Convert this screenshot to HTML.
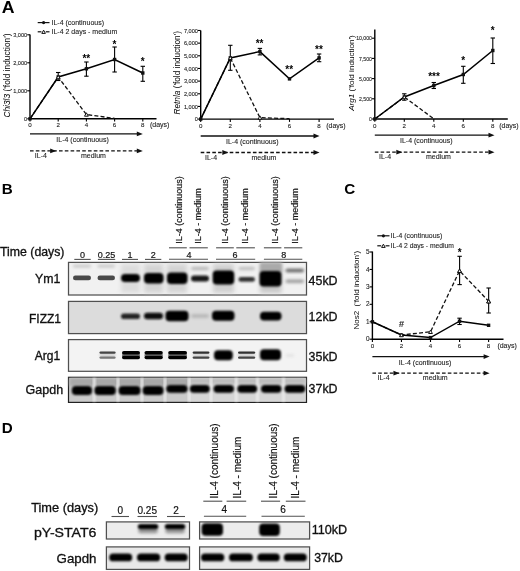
<!DOCTYPE html><html><head><meta charset="utf-8"><style>
html,body{margin:0;padding:0;background:#fff;overflow:hidden;}svg{display:block;filter:blur(0.3px);}
text{font-family:"Liberation Sans", sans-serif;}
</style></head><body>
<svg width="520" height="571" viewBox="0 0 520 571">
<defs><filter id="b0" x="-30%" y="-80%" width="160%" height="260%"><feGaussianBlur stdDeviation="0.55"/></filter><filter id="b1" x="-30%" y="-80%" width="160%" height="260%"><feGaussianBlur stdDeviation="0.9"/></filter><filter id="b2" x="-30%" y="-80%" width="160%" height="260%"><feGaussianBlur stdDeviation="1.4"/></filter><filter id="b3" x="-30%" y="-80%" width="160%" height="260%"><feGaussianBlur stdDeviation="2.2"/></filter></defs>
<rect width="520" height="571" fill="#fff"/>
<text x="1.7" y="12.6" font-size="15.7" font-weight="bold" fill="#000" textLength="12.8" lengthAdjust="spacingAndGlyphs">A</text>
<text x="1.7" y="193.8" font-size="15.2" text-anchor="start" font-weight="bold" fill="#000">B</text>
<text x="344.3" y="193.8" font-size="15.2" text-anchor="start" font-weight="bold" fill="#000">C</text>
<text x="1.7" y="433.2" font-size="15.2" text-anchor="start" font-weight="bold" fill="#000">D</text>
<line x1="30.0" y1="34.5" x2="30.0" y2="119.39999999999999" stroke="#000" stroke-width="1.4"/>
<line x1="29.4" y1="118.8" x2="156.5" y2="118.8" stroke="#000" stroke-width="1.4"/>
<line x1="27.2" y1="118.8" x2="30.0" y2="118.8" stroke="#000" stroke-width="1.1"/>
<text x="27.2" y="120.89999999999999" font-size="5.6" text-anchor="end" fill="#222" stroke="#222" stroke-width="0.1">0</text>
<line x1="27.2" y1="90.8" x2="30.0" y2="90.8" stroke="#000" stroke-width="1.1"/>
<text x="27.2" y="92.89999999999999" font-size="5.6" text-anchor="end" fill="#222" stroke="#222" stroke-width="0.1">1,000</text>
<line x1="27.2" y1="62.8" x2="30.0" y2="62.8" stroke="#000" stroke-width="1.1"/>
<text x="27.2" y="64.89999999999999" font-size="5.6" text-anchor="end" fill="#222" stroke="#222" stroke-width="0.1">2,000</text>
<line x1="27.2" y1="34.8" x2="30.0" y2="34.8" stroke="#000" stroke-width="1.1"/>
<text x="27.2" y="36.9" font-size="5.6" text-anchor="end" fill="#222" stroke="#222" stroke-width="0.1">3,000</text>
<line x1="30.0" y1="118.8" x2="30.0" y2="121.6" stroke="#000" stroke-width="1.1"/>
<text x="30.0" y="127.39999999999999" font-size="6.2" text-anchor="middle" fill="#222" stroke="#222" stroke-width="0.1">0</text>
<line x1="58.2" y1="118.8" x2="58.2" y2="121.6" stroke="#000" stroke-width="1.1"/>
<text x="58.2" y="127.39999999999999" font-size="6.2" text-anchor="middle" fill="#222" stroke="#222" stroke-width="0.1">2</text>
<line x1="86.4" y1="118.8" x2="86.4" y2="121.6" stroke="#000" stroke-width="1.1"/>
<text x="86.4" y="127.39999999999999" font-size="6.2" text-anchor="middle" fill="#222" stroke="#222" stroke-width="0.1">4</text>
<line x1="114.6" y1="118.8" x2="114.6" y2="121.6" stroke="#000" stroke-width="1.1"/>
<text x="114.6" y="127.39999999999999" font-size="6.2" text-anchor="middle" fill="#222" stroke="#222" stroke-width="0.1">6</text>
<line x1="142.8" y1="118.8" x2="142.8" y2="121.6" stroke="#000" stroke-width="1.1"/>
<text x="142.8" y="127.39999999999999" font-size="6.2" text-anchor="middle" fill="#222" stroke="#222" stroke-width="0.1">8</text>
<text x="150" y="127.39999999999999" font-size="7" text-anchor="start" fill="#222" stroke="#222" stroke-width="0.1">(days)</text>
<text x="9.6" y="75.5" font-size="8.4" text-anchor="middle" fill="#000" transform="rotate(-90 9.6 75.5)"><tspan font-style="italic">Chi3l3</tspan> ('fold induction')</text>
<polyline points="30.0,118.8 58.2,77.0 86.4,114.5 114.6,118.4" fill="none" stroke="#111" stroke-width="1.3" stroke-linejoin="miter" stroke-dasharray="4,2.2"/>
<polyline points="30.0,118.8 58.2,77.0 86.4,68.8 114.6,59.5 142.8,73.0" fill="none" stroke="#000" stroke-width="1.5" stroke-linejoin="miter"/>
<line x1="58.2" y1="72.5" x2="58.2" y2="80.5" stroke="#000" stroke-width="1.1"/>
<line x1="56.0" y1="72.5" x2="60.400000000000006" y2="72.5" stroke="#000" stroke-width="1.1"/>
<line x1="56.0" y1="80.5" x2="60.400000000000006" y2="80.5" stroke="#000" stroke-width="1.1"/>
<line x1="86.4" y1="62.0" x2="86.4" y2="76.2" stroke="#000" stroke-width="1.1"/>
<line x1="84.2" y1="62.0" x2="88.60000000000001" y2="62.0" stroke="#000" stroke-width="1.1"/>
<line x1="84.2" y1="76.2" x2="88.60000000000001" y2="76.2" stroke="#000" stroke-width="1.1"/>
<line x1="114.6" y1="47.0" x2="114.6" y2="72.0" stroke="#000" stroke-width="1.1"/>
<line x1="112.39999999999999" y1="47.0" x2="116.8" y2="47.0" stroke="#000" stroke-width="1.1"/>
<line x1="112.39999999999999" y1="72.0" x2="116.8" y2="72.0" stroke="#000" stroke-width="1.1"/>
<line x1="142.8" y1="66.3" x2="142.8" y2="81.3" stroke="#000" stroke-width="1.1"/>
<line x1="140.60000000000002" y1="66.3" x2="145.0" y2="66.3" stroke="#000" stroke-width="1.1"/>
<line x1="140.60000000000002" y1="81.3" x2="145.0" y2="81.3" stroke="#000" stroke-width="1.1"/>
<rect x="28.3" y="117.1" width="3.4" height="3.4" fill="#111"/>
<rect x="56.5" y="75.3" width="3.4" height="3.4" fill="#111"/>
<rect x="84.7" y="67.1" width="3.4" height="3.4" fill="#111"/>
<rect x="112.89999999999999" y="57.8" width="3.4" height="3.4" fill="#111"/>
<rect x="141.10000000000002" y="71.3" width="3.4" height="3.4" fill="#111"/>
<path d="M58.2,75.29 L60.1,78.71 L56.300000000000004,78.71 Z" fill="#fff" stroke="#111" stroke-width="1.0"/>
<path d="M86.4,112.79 L88.30000000000001,116.21 L84.5,116.21 Z" fill="#fff" stroke="#111" stroke-width="1.0"/>
<text x="86.3" y="61.7" font-size="10" text-anchor="middle" font-weight="bold" fill="#000">**</text>
<text x="114.5" y="48.0" font-size="10" text-anchor="middle" font-weight="bold" fill="#000">*</text>
<text x="142.6" y="65.4" font-size="10" text-anchor="middle" font-weight="bold" fill="#000">*</text>
<line x1="30.0" y1="133.9" x2="138.8" y2="133.9" stroke="#111" stroke-width="1.3"/>
<path d="M142.8,133.9 L136.8,131.5 L136.8,136.3 Z" fill="#111"/>
<text x="56.3" y="142.0" font-size="7" text-anchor="start" fill="#222" stroke="#222" stroke-width="0.1">IL-4 (continuous)</text>
<line x1="30.0" y1="150.9" x2="138.8" y2="150.9" stroke="#111" stroke-width="1.3" stroke-dasharray="3.6,2.2"/>
<path d="M56.2,150.9 L50.2,148.5 L50.2,153.3 Z" fill="#111"/>
<path d="M142.8,150.9 L136.8,148.5 L136.8,153.3 Z" fill="#111"/>
<text x="34.8" y="158.1" font-size="7" text-anchor="start" fill="#222" stroke="#222" stroke-width="0.1">IL-4</text>
<text x="81.0" y="158.1" font-size="7" text-anchor="start" fill="#222" stroke="#222" stroke-width="0.1">medium</text>
<line x1="37.7" y1="22.6" x2="49.5" y2="22.6" stroke="#111" stroke-width="1.2"/>
<circle cx="43.6" cy="22.6" r="1.6" fill="#111"/>
<text x="51.5" y="25.0" font-size="7" text-anchor="start" fill="#222" stroke="#222" stroke-width="0.1">IL-4 (continuous)</text>
<line x1="37.7" y1="31.8" x2="41.4" y2="31.8" stroke="#111" stroke-width="1.2"/>
<line x1="45.8" y1="31.8" x2="49.5" y2="31.8" stroke="#111" stroke-width="1.2"/>
<path d="M43.6,30.18 L45.4,33.42 L41.800000000000004,33.42 Z" fill="#fff" stroke="#111" stroke-width="1.0"/>
<text x="51.5" y="34.2" font-size="7" text-anchor="start" fill="#222" stroke="#222" stroke-width="0.1">IL-4 2 days - medium</text>
<line x1="200.7" y1="30.4" x2="200.7" y2="119.69999999999999" stroke="#000" stroke-width="1.4"/>
<line x1="200.1" y1="119.1" x2="334.0" y2="119.1" stroke="#000" stroke-width="1.4"/>
<line x1="197.89999999999998" y1="119.1" x2="200.7" y2="119.1" stroke="#000" stroke-width="1.1"/>
<text x="197.89999999999998" y="121.19999999999999" font-size="5.6" text-anchor="end" fill="#222" stroke="#222" stroke-width="0.1">0</text>
<line x1="197.89999999999998" y1="106.44" x2="200.7" y2="106.44" stroke="#000" stroke-width="1.1"/>
<text x="197.89999999999998" y="108.53999999999999" font-size="5.6" text-anchor="end" fill="#222" stroke="#222" stroke-width="0.1">1,000</text>
<line x1="197.89999999999998" y1="93.78" x2="200.7" y2="93.78" stroke="#000" stroke-width="1.1"/>
<text x="197.89999999999998" y="95.88" font-size="5.6" text-anchor="end" fill="#222" stroke="#222" stroke-width="0.1">2,000</text>
<line x1="197.89999999999998" y1="81.11999999999999" x2="200.7" y2="81.11999999999999" stroke="#000" stroke-width="1.1"/>
<text x="197.89999999999998" y="83.21999999999998" font-size="5.6" text-anchor="end" fill="#222" stroke="#222" stroke-width="0.1">3,000</text>
<line x1="197.89999999999998" y1="68.46" x2="200.7" y2="68.46" stroke="#000" stroke-width="1.1"/>
<text x="197.89999999999998" y="70.55999999999999" font-size="5.6" text-anchor="end" fill="#222" stroke="#222" stroke-width="0.1">4,000</text>
<line x1="197.89999999999998" y1="55.8" x2="200.7" y2="55.8" stroke="#000" stroke-width="1.1"/>
<text x="197.89999999999998" y="57.9" font-size="5.6" text-anchor="end" fill="#222" stroke="#222" stroke-width="0.1">5,000</text>
<line x1="197.89999999999998" y1="43.139999999999986" x2="200.7" y2="43.139999999999986" stroke="#000" stroke-width="1.1"/>
<text x="197.89999999999998" y="45.23999999999999" font-size="5.6" text-anchor="end" fill="#222" stroke="#222" stroke-width="0.1">6,000</text>
<line x1="197.89999999999998" y1="30.47999999999999" x2="200.7" y2="30.47999999999999" stroke="#000" stroke-width="1.1"/>
<text x="197.89999999999998" y="32.57999999999999" font-size="5.6" text-anchor="end" fill="#222" stroke="#222" stroke-width="0.1">7,000</text>
<line x1="200.7" y1="119.1" x2="200.7" y2="121.89999999999999" stroke="#000" stroke-width="1.1"/>
<text x="200.7" y="127.69999999999999" font-size="6.2" text-anchor="middle" fill="#222" stroke="#222" stroke-width="0.1">0</text>
<line x1="230.29999999999998" y1="119.1" x2="230.29999999999998" y2="121.89999999999999" stroke="#000" stroke-width="1.1"/>
<text x="230.29999999999998" y="127.69999999999999" font-size="6.2" text-anchor="middle" fill="#222" stroke="#222" stroke-width="0.1">2</text>
<line x1="259.9" y1="119.1" x2="259.9" y2="121.89999999999999" stroke="#000" stroke-width="1.1"/>
<text x="259.9" y="127.69999999999999" font-size="6.2" text-anchor="middle" fill="#222" stroke="#222" stroke-width="0.1">4</text>
<line x1="289.5" y1="119.1" x2="289.5" y2="121.89999999999999" stroke="#000" stroke-width="1.1"/>
<text x="289.5" y="127.69999999999999" font-size="6.2" text-anchor="middle" fill="#222" stroke="#222" stroke-width="0.1">6</text>
<line x1="319.1" y1="119.1" x2="319.1" y2="121.89999999999999" stroke="#000" stroke-width="1.1"/>
<text x="319.1" y="127.69999999999999" font-size="6.2" text-anchor="middle" fill="#222" stroke="#222" stroke-width="0.1">8</text>
<text x="326.2" y="127.69999999999999" font-size="7" text-anchor="start" fill="#222" stroke="#222" stroke-width="0.1">(days)</text>
<text x="179.8" y="72.8" font-size="8.25" text-anchor="middle" fill="#000" transform="rotate(-90 179.8 72.8)"><tspan font-style="italic">Retnla</tspan> ('fold induction')</text>
<polyline points="200.7,119.1 230.29999999999998,57.9 259.9,117.6 289.5,118.7" fill="none" stroke="#111" stroke-width="1.3" stroke-linejoin="miter" stroke-dasharray="4,2.2"/>
<polyline points="200.7,119.1 230.29999999999998,57.9 259.9,51.6 289.5,78.9 319.1,57.9" fill="none" stroke="#000" stroke-width="1.5" stroke-linejoin="miter"/>
<line x1="230.29999999999998" y1="45.3" x2="230.29999999999998" y2="70.3" stroke="#000" stroke-width="1.1"/>
<line x1="228.1" y1="45.3" x2="232.49999999999997" y2="45.3" stroke="#000" stroke-width="1.1"/>
<line x1="228.1" y1="70.3" x2="232.49999999999997" y2="70.3" stroke="#000" stroke-width="1.1"/>
<line x1="259.9" y1="48.4" x2="259.9" y2="54.9" stroke="#000" stroke-width="1.1"/>
<line x1="257.7" y1="48.4" x2="262.09999999999997" y2="48.4" stroke="#000" stroke-width="1.1"/>
<line x1="257.7" y1="54.9" x2="262.09999999999997" y2="54.9" stroke="#000" stroke-width="1.1"/>
<line x1="319.1" y1="54.0" x2="319.1" y2="61.7" stroke="#000" stroke-width="1.1"/>
<line x1="316.90000000000003" y1="54.0" x2="321.3" y2="54.0" stroke="#000" stroke-width="1.1"/>
<line x1="316.90000000000003" y1="61.7" x2="321.3" y2="61.7" stroke="#000" stroke-width="1.1"/>
<rect x="199.0" y="117.39999999999999" width="3.4" height="3.4" fill="#111"/>
<rect x="228.6" y="56.199999999999996" width="3.4" height="3.4" fill="#111"/>
<rect x="258.2" y="49.9" width="3.4" height="3.4" fill="#111"/>
<rect x="287.8" y="77.2" width="3.4" height="3.4" fill="#111"/>
<rect x="317.40000000000003" y="56.199999999999996" width="3.4" height="3.4" fill="#111"/>
<path d="M230.29999999999998,56.19 L232.2,59.61 L228.39999999999998,59.61 Z" fill="#fff" stroke="#111" stroke-width="1.0"/>
<path d="M259.9,115.89 L261.79999999999995,119.30999999999999 L258.0,119.30999999999999 Z" fill="#fff" stroke="#111" stroke-width="1.0"/>
<text x="259.6" y="47.400000000000006" font-size="10" text-anchor="middle" font-weight="bold" fill="#000">**</text>
<text x="289.2" y="72.8" font-size="10" text-anchor="middle" font-weight="bold" fill="#000">**</text>
<text x="318.9" y="52.7" font-size="10" text-anchor="middle" font-weight="bold" fill="#000">**</text>
<line x1="200.7" y1="136.0" x2="315.5" y2="136.0" stroke="#111" stroke-width="1.3"/>
<path d="M319.5,136.0 L313.5,133.6 L313.5,138.4 Z" fill="#111"/>
<text x="226.0" y="144.1" font-size="7" text-anchor="start" fill="#222" stroke="#222" stroke-width="0.1">IL-4 (continuous)</text>
<line x1="200.7" y1="152.5" x2="315.5" y2="152.5" stroke="#111" stroke-width="1.3" stroke-dasharray="3.6,2.2"/>
<path d="M228.29999999999998,152.5 L222.29999999999998,150.1 L222.29999999999998,154.9 Z" fill="#111"/>
<path d="M319.5,152.5 L313.5,150.1 L313.5,154.9 Z" fill="#111"/>
<text x="205.0" y="159.7" font-size="7" text-anchor="start" fill="#222" stroke="#222" stroke-width="0.1">IL-4</text>
<text x="251.5" y="159.7" font-size="7" text-anchor="start" fill="#222" stroke="#222" stroke-width="0.1">medium</text>
<line x1="374.8" y1="29.5" x2="374.8" y2="119.6" stroke="#000" stroke-width="1.4"/>
<line x1="374.2" y1="119.0" x2="507.8" y2="119.0" stroke="#000" stroke-width="1.4"/>
<line x1="372.0" y1="119.0" x2="374.8" y2="119.0" stroke="#000" stroke-width="1.1"/>
<text x="372.0" y="121.1" font-size="5.2" text-anchor="end" fill="#222" stroke="#222" stroke-width="0.1">0</text>
<line x1="372.0" y1="98.8" x2="374.8" y2="98.8" stroke="#000" stroke-width="1.1"/>
<text x="372.0" y="100.89999999999999" font-size="5.2" text-anchor="end" fill="#222" stroke="#222" stroke-width="0.1">2,500</text>
<line x1="372.0" y1="78.6" x2="374.8" y2="78.6" stroke="#000" stroke-width="1.1"/>
<text x="372.0" y="80.69999999999999" font-size="5.2" text-anchor="end" fill="#222" stroke="#222" stroke-width="0.1">5,000</text>
<line x1="372.0" y1="58.4" x2="374.8" y2="58.4" stroke="#000" stroke-width="1.1"/>
<text x="372.0" y="60.5" font-size="5.2" text-anchor="end" fill="#222" stroke="#222" stroke-width="0.1">7,500</text>
<line x1="372.0" y1="38.2" x2="374.8" y2="38.2" stroke="#000" stroke-width="1.1"/>
<text x="372.0" y="40.300000000000004" font-size="5.2" text-anchor="end" fill="#222" stroke="#222" stroke-width="0.1">10,000</text>
<line x1="374.8" y1="119.0" x2="374.8" y2="121.8" stroke="#000" stroke-width="1.1"/>
<text x="374.8" y="127.6" font-size="6.2" text-anchor="middle" fill="#222" stroke="#222" stroke-width="0.1">0</text>
<line x1="404.3" y1="119.0" x2="404.3" y2="121.8" stroke="#000" stroke-width="1.1"/>
<text x="404.3" y="127.6" font-size="6.2" text-anchor="middle" fill="#222" stroke="#222" stroke-width="0.1">2</text>
<line x1="433.8" y1="119.0" x2="433.8" y2="121.8" stroke="#000" stroke-width="1.1"/>
<text x="433.8" y="127.6" font-size="6.2" text-anchor="middle" fill="#222" stroke="#222" stroke-width="0.1">4</text>
<line x1="463.3" y1="119.0" x2="463.3" y2="121.8" stroke="#000" stroke-width="1.1"/>
<text x="463.3" y="127.6" font-size="6.2" text-anchor="middle" fill="#222" stroke="#222" stroke-width="0.1">6</text>
<line x1="492.8" y1="119.0" x2="492.8" y2="121.8" stroke="#000" stroke-width="1.1"/>
<text x="492.8" y="127.6" font-size="6.2" text-anchor="middle" fill="#222" stroke="#222" stroke-width="0.1">8</text>
<text x="499.2" y="127.6" font-size="7" text-anchor="start" fill="#222" stroke="#222" stroke-width="0.1">(days)</text>
<text x="354.2" y="73.0" font-size="8.1" text-anchor="middle" fill="#000" transform="rotate(-90 354.2 73.0)"><tspan font-style="italic">Arg1</tspan> ('fold induction')</text>
<polyline points="374.8,119.0 404.3,97.0 433.8,118.8" fill="none" stroke="#111" stroke-width="1.3" stroke-linejoin="miter" stroke-dasharray="4,2.2"/>
<polyline points="374.8,119.0 404.3,97.0 433.8,85.5 463.3,74.5 492.8,50.5" fill="none" stroke="#000" stroke-width="1.5" stroke-linejoin="miter"/>
<line x1="404.3" y1="93.8" x2="404.3" y2="100.2" stroke="#000" stroke-width="1.1"/>
<line x1="402.1" y1="93.8" x2="406.5" y2="93.8" stroke="#000" stroke-width="1.1"/>
<line x1="402.1" y1="100.2" x2="406.5" y2="100.2" stroke="#000" stroke-width="1.1"/>
<line x1="433.8" y1="82.5" x2="433.8" y2="88.5" stroke="#000" stroke-width="1.1"/>
<line x1="431.6" y1="82.5" x2="436.0" y2="82.5" stroke="#000" stroke-width="1.1"/>
<line x1="431.6" y1="88.5" x2="436.0" y2="88.5" stroke="#000" stroke-width="1.1"/>
<line x1="463.3" y1="66.3" x2="463.3" y2="83.3" stroke="#000" stroke-width="1.1"/>
<line x1="461.1" y1="66.3" x2="465.5" y2="66.3" stroke="#000" stroke-width="1.1"/>
<line x1="461.1" y1="83.3" x2="465.5" y2="83.3" stroke="#000" stroke-width="1.1"/>
<line x1="492.8" y1="38.0" x2="492.8" y2="63.5" stroke="#000" stroke-width="1.1"/>
<line x1="490.6" y1="38.0" x2="495.0" y2="38.0" stroke="#000" stroke-width="1.1"/>
<line x1="490.6" y1="63.5" x2="495.0" y2="63.5" stroke="#000" stroke-width="1.1"/>
<rect x="373.1" y="117.3" width="3.4" height="3.4" fill="#111"/>
<rect x="402.6" y="95.3" width="3.4" height="3.4" fill="#111"/>
<rect x="432.1" y="83.8" width="3.4" height="3.4" fill="#111"/>
<rect x="461.6" y="72.8" width="3.4" height="3.4" fill="#111"/>
<rect x="491.1" y="48.8" width="3.4" height="3.4" fill="#111"/>
<path d="M404.3,95.29 L406.2,98.71 L402.40000000000003,98.71 Z" fill="#fff" stroke="#111" stroke-width="1.0"/>
<text x="434.0" y="80.2" font-size="10" text-anchor="middle" font-weight="bold" fill="#000">***</text>
<text x="463.3" y="63.800000000000004" font-size="10" text-anchor="middle" font-weight="bold" fill="#000">*</text>
<text x="492.8" y="34.2" font-size="10" text-anchor="middle" font-weight="bold" fill="#000">*</text>
<line x1="374.8" y1="135.2" x2="490.5" y2="135.2" stroke="#111" stroke-width="1.3"/>
<path d="M494.5,135.2 L488.5,132.79999999999998 L488.5,137.6 Z" fill="#111"/>
<text x="400.0" y="143.29999999999998" font-size="7" text-anchor="start" fill="#222" stroke="#222" stroke-width="0.1">IL-4 (continuous)</text>
<line x1="374.8" y1="152.2" x2="490.5" y2="152.2" stroke="#111" stroke-width="1.3" stroke-dasharray="3.6,2.2"/>
<path d="M402.3,152.2 L396.3,149.79999999999998 L396.3,154.6 Z" fill="#111"/>
<path d="M494.5,152.2 L488.5,149.79999999999998 L488.5,154.6 Z" fill="#111"/>
<text x="379.0" y="159.39999999999998" font-size="7" text-anchor="start" fill="#222" stroke="#222" stroke-width="0.1">IL-4</text>
<text x="426.0" y="159.39999999999998" font-size="7" text-anchor="start" fill="#222" stroke="#222" stroke-width="0.1">medium</text>
<line x1="372.4" y1="251.5" x2="372.4" y2="339.8" stroke="#000" stroke-width="1.4"/>
<line x1="371.79999999999995" y1="339.2" x2="503.5" y2="339.2" stroke="#000" stroke-width="1.4"/>
<line x1="369.59999999999997" y1="339.2" x2="372.4" y2="339.2" stroke="#000" stroke-width="1.1"/>
<text x="369.59999999999997" y="341.3" font-size="6.4" text-anchor="end" fill="#222" stroke="#222" stroke-width="0.1">0</text>
<line x1="369.59999999999997" y1="321.76" x2="372.4" y2="321.76" stroke="#000" stroke-width="1.1"/>
<text x="369.59999999999997" y="323.86" font-size="6.4" text-anchor="end" fill="#222" stroke="#222" stroke-width="0.1">1</text>
<line x1="369.59999999999997" y1="304.32" x2="372.4" y2="304.32" stroke="#000" stroke-width="1.1"/>
<text x="369.59999999999997" y="306.42" font-size="6.4" text-anchor="end" fill="#222" stroke="#222" stroke-width="0.1">2</text>
<line x1="369.59999999999997" y1="286.88" x2="372.4" y2="286.88" stroke="#000" stroke-width="1.1"/>
<text x="369.59999999999997" y="288.98" font-size="6.4" text-anchor="end" fill="#222" stroke="#222" stroke-width="0.1">3</text>
<line x1="369.59999999999997" y1="269.44" x2="372.4" y2="269.44" stroke="#000" stroke-width="1.1"/>
<text x="369.59999999999997" y="271.54" font-size="6.4" text-anchor="end" fill="#222" stroke="#222" stroke-width="0.1">4</text>
<line x1="369.59999999999997" y1="252.0" x2="372.4" y2="252.0" stroke="#000" stroke-width="1.1"/>
<text x="369.59999999999997" y="254.1" font-size="6.4" text-anchor="end" fill="#222" stroke="#222" stroke-width="0.1">5</text>
<line x1="372.4" y1="339.2" x2="372.4" y2="342.0" stroke="#000" stroke-width="1.1"/>
<text x="372.4" y="347.8" font-size="6.2" text-anchor="middle" fill="#222" stroke="#222" stroke-width="0.1">0</text>
<line x1="401.45" y1="339.2" x2="401.45" y2="342.0" stroke="#000" stroke-width="1.1"/>
<text x="401.45" y="347.8" font-size="6.2" text-anchor="middle" fill="#222" stroke="#222" stroke-width="0.1">2</text>
<line x1="430.5" y1="339.2" x2="430.5" y2="342.0" stroke="#000" stroke-width="1.1"/>
<text x="430.5" y="347.8" font-size="6.2" text-anchor="middle" fill="#222" stroke="#222" stroke-width="0.1">4</text>
<line x1="459.54999999999995" y1="339.2" x2="459.54999999999995" y2="342.0" stroke="#000" stroke-width="1.1"/>
<text x="459.54999999999995" y="347.8" font-size="6.2" text-anchor="middle" fill="#222" stroke="#222" stroke-width="0.1">6</text>
<line x1="488.59999999999997" y1="339.2" x2="488.59999999999997" y2="342.0" stroke="#000" stroke-width="1.1"/>
<text x="488.59999999999997" y="347.8" font-size="6.2" text-anchor="middle" fill="#222" stroke="#222" stroke-width="0.1">8</text>
<text x="497.4" y="347.8" font-size="7" text-anchor="start" fill="#222" stroke="#222" stroke-width="0.1">(days)</text>
<text x="359.3" y="290.2" font-size="8" text-anchor="middle" fill="#000" transform="rotate(-90 359.3 290.2)"><tspan font-style="normal">Nos2&#160;</tspan> ('fold induction')</text>
<polyline points="372.4,321.8 401.45,335.0 430.5,331.8 459.54999999999995,270.8 488.59999999999997,301.2" fill="none" stroke="#111" stroke-width="1.3" stroke-linejoin="miter" stroke-dasharray="4,2.2"/>
<polyline points="372.4,321.8 401.45,335.0 430.5,337.6 459.54999999999995,321.2 488.59999999999997,325.3" fill="none" stroke="#000" stroke-width="1.5" stroke-linejoin="miter"/>
<line x1="459.54999999999995" y1="318.2" x2="459.54999999999995" y2="324.5" stroke="#000" stroke-width="1.1"/>
<line x1="457.34999999999997" y1="318.2" x2="461.74999999999994" y2="318.2" stroke="#000" stroke-width="1.1"/>
<line x1="457.34999999999997" y1="324.5" x2="461.74999999999994" y2="324.5" stroke="#000" stroke-width="1.1"/>
<rect x="370.7" y="320.1" width="3.4" height="3.4" fill="#111"/>
<rect x="399.75" y="333.3" width="3.4" height="3.4" fill="#111"/>
<rect x="428.8" y="335.90000000000003" width="3.4" height="3.4" fill="#111"/>
<rect x="457.84999999999997" y="319.5" width="3.4" height="3.4" fill="#111"/>
<rect x="486.9" y="323.6" width="3.4" height="3.4" fill="#111"/>
<path d="M401.45,333.29 L403.34999999999997,336.71 L399.55,336.71 Z" fill="#fff" stroke="#111" stroke-width="1.0"/>
<path d="M430.5,330.09000000000003 L432.4,333.51 L428.6,333.51 Z" fill="#fff" stroke="#111" stroke-width="1.0"/>
<path d="M459.54999999999995,269.09000000000003 L461.44999999999993,272.51 L457.65,272.51 Z" fill="#fff" stroke="#111" stroke-width="1.0"/>
<path d="M488.59999999999997,299.49 L490.49999999999994,302.90999999999997 L486.7,302.90999999999997 Z" fill="#fff" stroke="#111" stroke-width="1.0"/>
<text x="459.6" y="256.2" font-size="10" text-anchor="middle" font-weight="bold" fill="#000">*</text>
<line x1="372.4" y1="356.6" x2="485.6" y2="356.6" stroke="#111" stroke-width="1.3"/>
<path d="M489.6,356.6 L483.6,354.20000000000005 L483.6,359.0 Z" fill="#111"/>
<text x="398.8" y="364.70000000000005" font-size="7" text-anchor="start" fill="#222" stroke="#222" stroke-width="0.1">IL-4 (continuous)</text>
<line x1="372.4" y1="373.2" x2="485.6" y2="373.2" stroke="#111" stroke-width="1.3" stroke-dasharray="3.6,2.2"/>
<path d="M399.45,373.2 L393.45,370.8 L393.45,375.59999999999997 Z" fill="#111"/>
<path d="M489.6,373.2 L483.6,370.8 L483.6,375.59999999999997 Z" fill="#111"/>
<text x="377.5" y="380.4" font-size="7" text-anchor="start" fill="#222" stroke="#222" stroke-width="0.1">IL-4</text>
<text x="422.8" y="380.4" font-size="7" text-anchor="start" fill="#222" stroke="#222" stroke-width="0.1">medium</text>
<line x1="459.6" y1="256.3" x2="459.6" y2="284.6" stroke="#000" stroke-width="1.1"/>
<line x1="457.40000000000003" y1="256.3" x2="461.8" y2="256.3" stroke="#000" stroke-width="1.1"/>
<line x1="457.40000000000003" y1="284.6" x2="461.8" y2="284.6" stroke="#000" stroke-width="1.1"/>
<line x1="488.65" y1="288.0" x2="488.65" y2="313.0" stroke="#000" stroke-width="1.1"/>
<line x1="486.45" y1="288.0" x2="490.84999999999997" y2="288.0" stroke="#000" stroke-width="1.1"/>
<line x1="486.45" y1="313.0" x2="490.84999999999997" y2="313.0" stroke="#000" stroke-width="1.1"/>
<path d="M459.6,269.09000000000003 L461.5,272.51 L457.70000000000005,272.51 Z" fill="#fff" stroke="#111" stroke-width="1.0"/>
<path d="M488.65,299.49 L490.54999999999995,302.90999999999997 L486.75,302.90999999999997 Z" fill="#fff" stroke="#111" stroke-width="1.0"/>
<text x="401.5" y="327.0" font-size="9" text-anchor="middle" fill="#222" stroke="#222" stroke-width="0.18">#</text>
<line x1="377.3" y1="235.8" x2="389.5" y2="235.8" stroke="#111" stroke-width="1.2"/>
<circle cx="383.4" cy="235.8" r="1.6" fill="#111"/>
<text x="390.5" y="238.2" font-size="6.9" text-anchor="start" fill="#222" stroke="#222" stroke-width="0.1">IL-4 (continuous)</text>
<line x1="377.3" y1="245.8" x2="381.2" y2="245.8" stroke="#111" stroke-width="1.2"/>
<line x1="385.6" y1="245.8" x2="389.5" y2="245.8" stroke="#111" stroke-width="1.2"/>
<path d="M383.4,244.18 L385.2,247.42000000000002 L381.59999999999997,247.42000000000002 Z" fill="#fff" stroke="#111" stroke-width="1.0"/>
<text x="390.5" y="248.2" font-size="6.75" text-anchor="start" fill="#222" stroke="#222" stroke-width="0.1">IL-4 2 days - medium</text>
<text x="0.0" y="256.2" font-size="12.3" text-anchor="start" fill="#111" stroke="#111" stroke-width="0.32">Time (days)</text>
<text x="82.5" y="257.6" font-size="9" text-anchor="middle" fill="#111" stroke="#111" stroke-width="0.18">0</text>
<line x1="74.3" y1="259.4" x2="90.7" y2="259.4" stroke="#505050" stroke-width="1.1"/>
<text x="106.55000000000001" y="257.6" font-size="9" text-anchor="middle" fill="#111" stroke="#111" stroke-width="0.18">0.25</text>
<line x1="97.9" y1="259.4" x2="115.2" y2="259.4" stroke="#505050" stroke-width="1.1"/>
<text x="130.0" y="257.6" font-size="9" text-anchor="middle" fill="#111" stroke="#111" stroke-width="0.18">1</text>
<line x1="122" y1="259.4" x2="138" y2="259.4" stroke="#505050" stroke-width="1.1"/>
<text x="153.15" y="257.6" font-size="9" text-anchor="middle" fill="#111" stroke="#111" stroke-width="0.18">2</text>
<line x1="145" y1="259.4" x2="161.3" y2="259.4" stroke="#505050" stroke-width="1.1"/>
<text x="182.0" y="243.8" font-size="9" text-anchor="start" fill="#111" stroke="#111" stroke-width="0.18" transform="rotate(-90 182.0 243.8)">IL-4 (continuous)</text>
<line x1="169" y1="247.8" x2="186.8" y2="247.8" stroke="#505050" stroke-width="1.1"/>
<text x="201.5" y="243.8" font-size="9" text-anchor="start" fill="#111" stroke="#111" stroke-width="0.18" transform="rotate(-90 201.5 243.8)">IL-4 - medium</text>
<line x1="189.5" y1="247.8" x2="207.8" y2="247.8" stroke="#505050" stroke-width="1.1"/>
<text x="228.0" y="243.8" font-size="9" text-anchor="start" fill="#111" stroke="#111" stroke-width="0.18" transform="rotate(-90 228.0 243.8)">IL-4 (continuous)</text>
<line x1="216.1" y1="247.8" x2="233.8" y2="247.8" stroke="#505050" stroke-width="1.1"/>
<text x="248.0" y="243.8" font-size="9" text-anchor="start" fill="#111" stroke="#111" stroke-width="0.18" transform="rotate(-90 248.0 243.8)">IL-4 - medium</text>
<line x1="236.3" y1="247.8" x2="254.9" y2="247.8" stroke="#505050" stroke-width="1.1"/>
<text x="278.0" y="243.8" font-size="9" text-anchor="start" fill="#111" stroke="#111" stroke-width="0.18" transform="rotate(-90 278.0 243.8)">IL-4 (continuous)</text>
<line x1="263.9" y1="247.8" x2="281.4" y2="247.8" stroke="#505050" stroke-width="1.1"/>
<text x="298.0" y="243.8" font-size="9" text-anchor="start" fill="#111" stroke="#111" stroke-width="0.18" transform="rotate(-90 298.0 243.8)">IL-4 - medium</text>
<line x1="284.1" y1="247.8" x2="302.3" y2="247.8" stroke="#505050" stroke-width="1.1"/>
<text x="189.0" y="257.6" font-size="9" text-anchor="middle" fill="#111" stroke="#111" stroke-width="0.18">4</text>
<line x1="169" y1="259.3" x2="208" y2="259.3" stroke="#505050" stroke-width="1.1"/>
<text x="235.0" y="257.6" font-size="9" text-anchor="middle" fill="#111" stroke="#111" stroke-width="0.18">6</text>
<line x1="216" y1="259.3" x2="255.2" y2="259.3" stroke="#505050" stroke-width="1.1"/>
<text x="283.7" y="257.6" font-size="9" text-anchor="middle" fill="#111" stroke="#111" stroke-width="0.18">8</text>
<line x1="263.9" y1="259.3" x2="302.3" y2="259.3" stroke="#505050" stroke-width="1.1"/>
<rect x="68.5" y="262.4" width="238.0" height="32.60000000000002" fill="#f1f1f1" stroke="#505050" stroke-width="1.25"/>
<rect x="73" y="264.8" width="18" height="2.8" rx="1.4" fill="#bbb" opacity="0.8" filter="url(#b2)"/>
<rect x="73" y="275.5" width="18" height="4.8" rx="2.4" fill="#4a4a4a" opacity="1.0" filter="url(#b0)"/>
<rect x="97.5" y="264.8" width="17.5" height="2.8" rx="1.4" fill="#bbb" opacity="0.8" filter="url(#b2)"/>
<rect x="97.5" y="275.5" width="17.5" height="4.8" rx="2.4" fill="#4a4a4a" opacity="1.0" filter="url(#b0)"/>
<rect x="121" y="264" width="19" height="29" fill="#c8c8c8" opacity="0.5" filter="url(#b3)"/>
<rect x="144" y="264" width="19" height="29" fill="#c8c8c8" opacity="0.7" filter="url(#b3)"/>
<rect x="167" y="264" width="20" height="29" fill="#c8c8c8" opacity="0.7" filter="url(#b3)"/>
<rect x="213" y="264" width="21" height="29" fill="#c8c8c8" opacity="0.8" filter="url(#b3)"/>
<rect x="260" y="264" width="21.5" height="29" fill="#c8c8c8" opacity="1.0" filter="url(#b3)"/>
<rect x="121" y="274.0" width="19" height="8.0" rx="4.0" fill="#000" opacity="1.0" filter="url(#b1)"/>
<rect x="144" y="272.95" width="19.5" height="10.5" rx="4" fill="#000" opacity="1.0" filter="url(#b1)"/>
<rect x="167" y="272.55" width="20.5" height="11.5" rx="4" fill="#000" opacity="1.0" filter="url(#b1)"/>
<rect x="191" y="266.75" width="18" height="3.5" rx="1.75" fill="#aaa" opacity="0.8" filter="url(#b2)"/>
<rect x="191" y="275.4" width="18" height="6.0" rx="3.0" fill="#151515" opacity="1.0" filter="url(#b1)"/>
<rect x="212.7" y="270.4" width="21.5" height="14.0" rx="4" fill="#000" opacity="1.0" filter="url(#b1)"/>
<rect x="238.5" y="266.75" width="16.5" height="3.5" rx="1.75" fill="#aaa" opacity="0.7" filter="url(#b2)"/>
<rect x="238.5" y="277.0" width="16.5" height="4.8" rx="2.4" fill="#333" opacity="1.0" filter="url(#b1)"/>
<rect x="260" y="262.5" width="22" height="10" fill="#aaa" filter="url(#b2)"/>
<rect x="259.5" y="270.95" width="22.0" height="15.5" rx="4" fill="#000" opacity="1.0" filter="url(#b1)"/>
<rect x="285.5" y="268.8" width="18.5" height="3.4" rx="1.7" fill="#555" opacity="0.9" filter="url(#b2)"/>
<rect x="285.5" y="279.5" width="18.5" height="3.4" rx="1.7" fill="#888" opacity="0.8" filter="url(#b2)"/>
<text x="308.6" y="284.6" font-size="12.4" text-anchor="start" fill="#111" stroke="#111" stroke-width="0.32">45kD</text>
<text x="29.0" y="322.6" font-size="12" text-anchor="start" fill="#111" stroke="#111" stroke-width="0.32">FIZZ1</text>
<text x="35.0" y="283.0" font-size="12.3" text-anchor="start" fill="#111" stroke="#111" stroke-width="0.32">Ym1</text>
<rect x="68.5" y="301.4" width="238.0" height="32.200000000000045" fill="#dcdcdc" stroke="#505050" stroke-width="1.25"/>
<rect x="121" y="313.4" width="19" height="5.6" rx="2.8" fill="#222" opacity="1.0" filter="url(#b1)"/>
<rect x="144" y="312.7" width="19" height="6.6" rx="3.3" fill="#0a0a0a" opacity="1.0" filter="url(#b1)"/>
<rect x="165.5" y="310.65" width="23.0" height="10.5" rx="4" fill="#000" opacity="1.0" filter="url(#b1)"/>
<rect x="191" y="314.25" width="18" height="3.5" rx="1.75" fill="#999" opacity="0.6" filter="url(#b2)"/>
<rect x="212" y="310.7" width="22.5" height="10.0" rx="4" fill="#000" opacity="1.0" filter="url(#b1)"/>
<rect x="260" y="311.8" width="21.5" height="8.8" rx="4" fill="#000" opacity="1.0" filter="url(#b1)"/>
<text x="308.6" y="320.9" font-size="12.4" text-anchor="start" fill="#111" stroke="#111" stroke-width="0.32">12kD</text>
<rect x="68.5" y="339.6" width="238.0" height="31.69999999999999" fill="#f3f3f3" stroke="#505050" stroke-width="1.25"/>
<text x="34.8" y="359.8" font-size="12" text-anchor="start" fill="#111" stroke="#111" stroke-width="0.32">Arg1</text>
<rect x="99.5" y="352.0" width="16.099999999999994" height="6.0" rx="3.0" fill="#ccc" opacity="0.7" filter="url(#b1)"/>
<rect x="99.5" y="351.40000000000003" width="16.099999999999994" height="2.4" rx="1.2" fill="#444" opacity="1.0" filter="url(#b0)"/>
<rect x="99.5" y="356.40000000000003" width="16.099999999999994" height="2.4" rx="1.2" fill="#777" opacity="1.0" filter="url(#b0)"/>
<rect x="192.7" y="352.0" width="16.700000000000017" height="6.0" rx="3.0" fill="#ccc" opacity="0.7" filter="url(#b1)"/>
<rect x="192.7" y="351.40000000000003" width="16.700000000000017" height="2.4" rx="1.2" fill="#333" opacity="1.0" filter="url(#b0)"/>
<rect x="192.7" y="356.40000000000003" width="16.700000000000017" height="2.4" rx="1.2" fill="#444" opacity="1.0" filter="url(#b0)"/>
<rect x="238" y="352.0" width="17.19999999999999" height="6.0" rx="3.0" fill="#ccc" opacity="0.7" filter="url(#b1)"/>
<rect x="238" y="351.40000000000003" width="17.19999999999999" height="2.4" rx="1.2" fill="#333" opacity="1.0" filter="url(#b0)"/>
<rect x="238" y="356.40000000000003" width="17.19999999999999" height="2.4" rx="1.2" fill="#444" opacity="1.0" filter="url(#b0)"/>
<rect x="122.0" y="352.2" width="18.0" height="6.0" rx="3.0" fill="#777" opacity="1.0" filter="url(#b0)"/>
<rect x="122.0" y="351.0" width="18.0" height="3.6" rx="1.8" fill="#000" opacity="1.0" filter="url(#b0)"/>
<rect x="122.0" y="355.75" width="18.0" height="3.5" rx="1.75" fill="#000" opacity="1.0" filter="url(#b0)"/>
<rect x="144.5" y="352.2" width="18.30000000000001" height="6.0" rx="3.0" fill="#777" opacity="1.0" filter="url(#b0)"/>
<rect x="144.5" y="351.0" width="18.30000000000001" height="3.6" rx="1.8" fill="#000" opacity="1.0" filter="url(#b0)"/>
<rect x="144.5" y="355.75" width="18.30000000000001" height="3.5" rx="1.75" fill="#000" opacity="1.0" filter="url(#b0)"/>
<rect x="168.2" y="352.2" width="18.80000000000001" height="6.0" rx="3.0" fill="#777" opacity="1.0" filter="url(#b0)"/>
<rect x="168.2" y="351.0" width="18.80000000000001" height="3.6" rx="1.8" fill="#000" opacity="1.0" filter="url(#b0)"/>
<rect x="168.2" y="355.75" width="18.80000000000001" height="3.5" rx="1.75" fill="#000" opacity="1.0" filter="url(#b0)"/>
<rect x="214.0" y="350.3" width="18.80000000000001" height="10.0" rx="4" fill="#000" opacity="1.0" filter="url(#b1)"/>
<rect x="260.0" y="349.2" width="21.0" height="11.0" rx="4" fill="#000" opacity="1.0" filter="url(#b1)"/>
<rect x="286.0" y="354.5" width="8.0" height="2.0" rx="1.0" fill="#ccc" opacity="0.6" filter="url(#b2)"/>
<text x="308.6" y="361.1" font-size="12.4" text-anchor="start" fill="#111" stroke="#111" stroke-width="0.32">35kD</text>
<rect x="68.5" y="377.3" width="238.0" height="25.099999999999966" fill="#cacaca" stroke="#222" stroke-width="1.2"/>
<rect x="69.5" y="378" width="120" height="8" fill="#a8a8a8" filter="url(#b2)"/>
<rect x="189.5" y="378" width="116" height="23.5" fill="#d6d6d6"/>
<rect x="189.5" y="378" width="116" height="6" fill="#bdbdbd" filter="url(#b2)"/>
<rect x="93.05" y="378" width="2.4" height="23.5" fill="#eee" filter="url(#b1)"/>
<rect x="116.8" y="378" width="2.4" height="23.5" fill="#eee" filter="url(#b1)"/>
<rect x="140.8" y="378" width="2.4" height="23.5" fill="#eee" filter="url(#b1)"/>
<rect x="163.8" y="378" width="2.4" height="23.5" fill="#eee" filter="url(#b1)"/>
<rect x="187.8" y="378" width="2.4" height="23.5" fill="#eee" filter="url(#b1)"/>
<rect x="209.8" y="378" width="2.4" height="23.5" fill="#eee" filter="url(#b1)"/>
<rect x="235.05" y="378" width="2.4" height="23.5" fill="#eee" filter="url(#b1)"/>
<rect x="256.3" y="378" width="2.4" height="23.5" fill="#eee" filter="url(#b1)"/>
<rect x="282.3" y="378" width="2.4" height="23.5" fill="#eee" filter="url(#b1)"/>
<text x="25.6" y="394.3" font-size="12.5" text-anchor="start" fill="#111" stroke="#111" stroke-width="0.32">Gapdh</text>
<rect x="71.8" y="386.1" width="20.200000000000003" height="9.0" rx="4" fill="#000" opacity="1.0" filter="url(#b1)"/>
<rect x="94.4" y="386.1" width="21.39999999999999" height="9.0" rx="4" fill="#000" opacity="1.0" filter="url(#b1)"/>
<rect x="118.6" y="386.1" width="21.900000000000006" height="9.0" rx="4" fill="#000" opacity="1.0" filter="url(#b1)"/>
<rect x="142.6" y="386.1" width="20.900000000000006" height="9.0" rx="4" fill="#000" opacity="1.0" filter="url(#b1)"/>
<rect x="166.2" y="384.90000000000003" width="21.400000000000006" height="7.8" rx="3.9" fill="#000" opacity="1.0" filter="url(#b1)"/>
<rect x="189.8" y="384.90000000000003" width="20.0" height="7.8" rx="3.9" fill="#000" opacity="1.0" filter="url(#b1)"/>
<rect x="213.5" y="384.90000000000003" width="20.5" height="7.8" rx="3.9" fill="#000" opacity="1.0" filter="url(#b1)"/>
<rect x="237.3" y="384.90000000000003" width="19.899999999999977" height="7.8" rx="3.9" fill="#000" opacity="1.0" filter="url(#b1)"/>
<rect x="261.0" y="384.90000000000003" width="20.5" height="7.8" rx="3.9" fill="#000" opacity="1.0" filter="url(#b1)"/>
<rect x="284.5" y="384.90000000000003" width="20.69999999999999" height="7.8" rx="3.9" fill="#000" opacity="1.0" filter="url(#b1)"/>
<text x="308.6" y="393.4" font-size="12.4" text-anchor="start" fill="#111" stroke="#111" stroke-width="0.32">37kD</text>
<text x="31.2" y="511.6" font-size="12.7" text-anchor="start" fill="#111" stroke="#111" stroke-width="0.32" textLength="67" lengthAdjust="spacingAndGlyphs">Time (days)</text>
<text x="33.9" y="537.0" font-size="13.6" text-anchor="start" fill="#111" stroke="#111" stroke-width="0.32" textLength="62.6" lengthAdjust="spacingAndGlyphs">pY-STAT6</text>
<text x="56.6" y="563.4" font-size="13.3" text-anchor="start" fill="#111" stroke="#111" stroke-width="0.32">Gapdh</text>
<text x="120.25" y="513.6" font-size="10" text-anchor="middle" fill="#111" stroke="#111" stroke-width="0.18">0</text>
<line x1="111.5" y1="516.5" x2="129" y2="516.5" stroke="#505050" stroke-width="1.1"/>
<text x="147.25" y="513.6" font-size="10" text-anchor="middle" fill="#111" stroke="#111" stroke-width="0.18">0.25</text>
<line x1="137.5" y1="516.5" x2="157" y2="516.5" stroke="#505050" stroke-width="1.1"/>
<text x="176.0" y="513.6" font-size="10" text-anchor="middle" fill="#111" stroke="#111" stroke-width="0.18">2</text>
<line x1="167" y1="516.5" x2="185" y2="516.5" stroke="#505050" stroke-width="1.1"/>
<text x="218.2" y="498.4" font-size="10" text-anchor="start" fill="#111" stroke="#111" stroke-width="0.18" transform="rotate(-90 218.2 498.4)">IL-4 (continuous)</text>
<line x1="203.3" y1="501.2" x2="222.3" y2="501.2" stroke="#505050" stroke-width="1.1"/>
<text x="241.0" y="498.4" font-size="10" text-anchor="start" fill="#111" stroke="#111" stroke-width="0.18" transform="rotate(-90 241.0 498.4)">IL-4 - medium</text>
<line x1="226.6" y1="501.2" x2="246.2" y2="501.2" stroke="#505050" stroke-width="1.1"/>
<text x="277.0" y="498.4" font-size="10" text-anchor="start" fill="#111" stroke="#111" stroke-width="0.18" transform="rotate(-90 277.0 498.4)">IL-4 (continuous)</text>
<line x1="261" y1="501.2" x2="280.1" y2="501.2" stroke="#505050" stroke-width="1.1"/>
<text x="298.6" y="498.4" font-size="10" text-anchor="start" fill="#111" stroke="#111" stroke-width="0.18" transform="rotate(-90 298.6 498.4)">IL-4 - medium</text>
<line x1="285.8" y1="501.2" x2="305.5" y2="501.2" stroke="#505050" stroke-width="1.1"/>
<text x="224.4" y="513.2" font-size="10" text-anchor="middle" fill="#111" stroke="#111" stroke-width="0.18">4</text>
<line x1="203.9" y1="516.3" x2="246.2" y2="516.3" stroke="#505050" stroke-width="1.1"/>
<text x="283.0" y="513.2" font-size="10" text-anchor="middle" fill="#111" stroke="#111" stroke-width="0.18">6</text>
<line x1="261.5" y1="516.3" x2="304.8" y2="516.3" stroke="#505050" stroke-width="1.1"/>
<rect x="106.4" y="521.9" width="83.1" height="17.100000000000023" fill="#ececec" stroke="#505050" stroke-width="1.25"/>
<rect x="199.6" y="521.9" width="110.00000000000003" height="17.100000000000023" fill="#ececec" stroke="#505050" stroke-width="1.25"/>
<rect x="138.3" y="528.3" width="19.5" height="5.0" rx="2.5" fill="#8a8a8a" opacity="0.9" filter="url(#b2)"/>
<rect x="137.8" y="523.9" width="20.5" height="5.4" rx="2.7" fill="#000" opacity="1.0" filter="url(#b1)"/>
<rect x="165.3" y="528.3" width="19.5" height="5.0" rx="2.5" fill="#8a8a8a" opacity="0.9" filter="url(#b2)"/>
<rect x="164.8" y="523.9" width="20.5" height="5.4" rx="2.7" fill="#000" opacity="1.0" filter="url(#b1)"/>
<rect x="201.6" y="523.35" width="21.400000000000006" height="12.5" rx="4" fill="#000" opacity="1.0" filter="url(#b1)"/>
<rect x="259.2" y="523.55" width="20.600000000000023" height="12.5" rx="4" fill="#000" opacity="1.0" filter="url(#b1)"/>
<text x="311.7" y="534.2" font-size="12.6" text-anchor="start" fill="#111" stroke="#111" stroke-width="0.32">110kD</text>
<rect x="106.4" y="546.9" width="83.1" height="22.5" fill="#e8e8e8" stroke="#505050" stroke-width="1.25"/>
<rect x="199.6" y="546.9" width="110.00000000000003" height="22.5" fill="#e8e8e8" stroke="#505050" stroke-width="1.25"/>
<rect x="109.2" y="553.5" width="22.999999999999986" height="7.8" rx="3.9" fill="#000" opacity="1.0" filter="url(#b1)"/>
<rect x="137.0" y="553.5" width="23.19999999999999" height="7.8" rx="3.9" fill="#000" opacity="1.0" filter="url(#b1)"/>
<rect x="164.7" y="553.5" width="23.0" height="7.8" rx="3.9" fill="#000" opacity="1.0" filter="url(#b1)"/>
<rect x="201.0" y="553.5" width="23.30000000000001" height="7.8" rx="3.9" fill="#000" opacity="1.0" filter="url(#b1)"/>
<rect x="229.0" y="553.5" width="23.900000000000006" height="7.8" rx="3.9" fill="#000" opacity="1.0" filter="url(#b1)"/>
<rect x="257.4" y="553.5" width="22.400000000000034" height="7.8" rx="3.9" fill="#000" opacity="1.0" filter="url(#b1)"/>
<rect x="283.8" y="553.5" width="23.0" height="7.8" rx="3.9" fill="#000" opacity="1.0" filter="url(#b1)"/>
<text x="314.2" y="561.6" font-size="12.3" text-anchor="start" fill="#111" stroke="#111" stroke-width="0.32">37kD</text>
</svg></body></html>
